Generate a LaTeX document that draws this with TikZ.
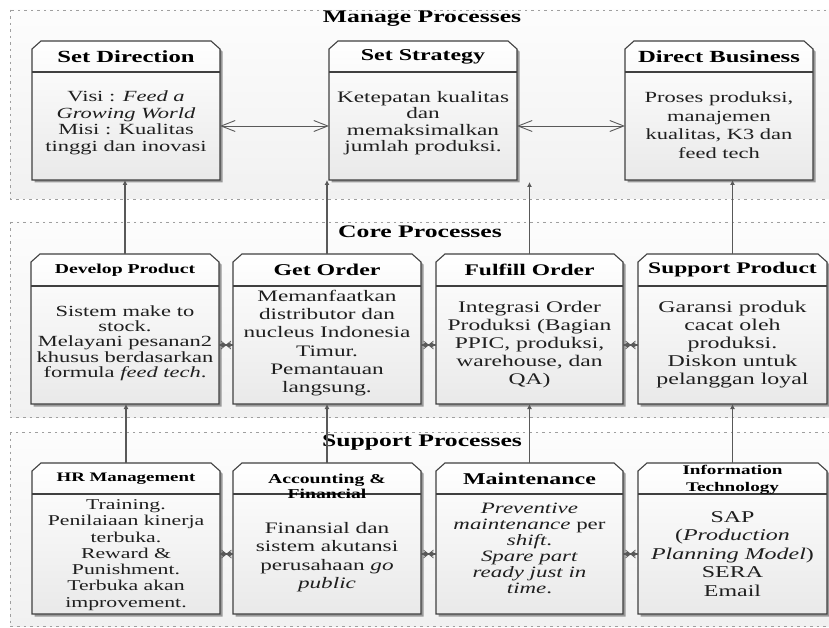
\documentclass[tikz,border=0pt]{standalone}
\usepackage{fontspec}
\setmainfont{Liberation Serif}[FakeStretch=1.45]
\usetikzlibrary{arrows.meta,decorations.markings}

% #1 name, #2 x left, #3 x right, #4 header options, #5 header text, #6 body options, #7 body text
\newcommand\pbox[7]{%
  \fill[boxshadow] ({#2+2.5},{\pya+10.5}) -- ({#2+11.5},{\pya+2.5}) -- ({#3-6.5},{\pya+2.5}) -- ({#3+2.5},{\pya+10.5}) -- ({#3+2.5},{\pyb+2.5}) -- ({#2+2.5},{\pyb+2.5}) -- cycle;
  \path[boxbody] (#2,{\pya+8}) -- ({#2+9},\pya) -- ({#3-9},\pya) -- (#3,{\pya+8}) -- (#3,\pyb) -- (#2,\pyb) -- cycle;
  \draw[boxline] (#2,\pyh) -- (#3,\pyh);
  \node[area, minimum width={#3-#2}, minimum height={\pyh-\pya}] (#1-h) at ({(#2+#3)/2},{(\pya+\pyh)/2}) {};
  \node[area, minimum width={#3-#2}, minimum height={\pyb-\pyh}] (#1) at ({(#2+#3)/2},{(\pyh+\pyb)/2}) {};
  \node[hdr,#4] (#1-ht) at (#1-h.center) {#5};
  \node[bodytxt,#6] (#1-bt) at (#1.center) {#7};
}

\begin{document}
\begin{tikzpicture}[x=1pt,y=-1pt,
  grpfill/.style={top color=gray!2, bottom color=gray!11},
  grpline/.style={draw=gray!75, line width=0.9pt, dash pattern=on 2.5pt off 4pt},
  grptitle/.style={font=\fontsize{17.7}{18}\selectfont\bfseries, text=black, inner sep=0pt},
  boxshadow/.style={fill=black!40},
  boxbody/.style={draw=black!75, line width=1.1pt, top color=white, bottom color=gray!17},
  boxline/.style={draw=black!75, line width=1.1pt},
  area/.style={inner sep=0pt, outer sep=0pt, draw=none},
  hdr/.style={font=\fontsize{16.5}{16}\selectfont\bfseries, align=center, inner sep=0pt, text=black},
  hdrS/.style={font=\fontsize{13.2}{15}\selectfont\bfseries},
  bodytxt/.style={font=\fontsize{15.5}{16}\selectfont, align=center, inner sep=0pt, text=black!88},
  conn/.style={draw=black!65, line width=1.2pt},
  up/.style={conn, -{Latex[length=5pt,width=5pt]}},
  bi/.style={draw=black!65, line width=0.9pt, {Straight Barb[length=14pt,width=11pt]}-{Straight Barb[length=14pt,width=11pt]}},
  xlink/.style={conn, postaction={decorate}, decoration={markings, mark=at position 0.5 with {\draw[black!65, line width=0.7pt] (-5,-4) -- (5,4) (-5,4) -- (5,-4) (-5,-2) -- (5,2) (-5,2) -- (5,-2);}}}
]
\useasboundingbox (0,0) rectangle (829,628);

% groups
\shade[grpfill] (10,10) rectangle (840,199);
\draw[grpline] (10,10) rectangle (840,199);
\shade[grpfill] (10,222) rectangle (840,417);
\draw[grpline] (10,222) rectangle (840,417);
\shade[grpfill] (10,432) rectangle (840,626.5);
\draw[grpline] (10,432) rectangle (840,626.5);

\node[grptitle] (t-manage) at (422,19) {Manage Processes};
\node[grptitle] (t-core) at (420,232) {Core Processes};
\node[grptitle] (t-support) at (422,443) {Support Processes};

% Manage row
\def\pya{41}\def\pyh{72}\def\pyb{180}
\pbox{sd}{32}{220}{font=\fontsize{17}{17}\selectfont\bfseries}{Set Direction}{font=\fontsize{15.5}{16.5}\selectfont, yshift=3pt}{Visi : \textit{Feed a}\\\textit{Growing World}\\Misi : Kualitas\\tinggi dan inovasi}
\pbox{ss}{329}{517}{}{Set Strategy}{font=\fontsize{16}{16.5}\selectfont, yshift=3pt}{Ketepatan kualitas\\dan\\memaksimalkan\\jumlah produksi.}
\pbox{db}{625}{813}{font=\fontsize{17}{17}\selectfont\bfseries}{Direct Business}{font=\fontsize{15.5}{18.5}\selectfont, yshift=1pt}{Proses produksi,\\manajemen\\kualitas, K3 dan\\feed tech}

% Core row
\def\pya{254}\def\pyh{286}\def\pyb{404}
\pbox{dp}{31}{219}{hdrS, font=\fontsize{13.6}{15}\selectfont\bfseries}{Develop Product}{font=\fontsize{15.5}{15.3}\selectfont, yshift=2pt}{Sistem make to\\stock.\\Melayani pesanan2\\khusus berdasarkan\\formula \textit{feed tech}.}
\pbox{go}{233}{421}{}{Get Order}{font=\fontsize{16}{18.3}\selectfont, yshift=2pt}{Memanfaatkan\\distributor dan\\nucleus Indonesia\\Timur.\\Pemantauan\\langsung.}
\pbox{fo}{436}{623}{font=\fontsize{16.2}{16}\selectfont\bfseries}{Fulfill Order}{font=\fontsize{16.2}{18}\selectfont}{Integrasi Order\\Produksi (Bagian\\PPIC, produksi,\\warehouse, dan\\QA)}
\pbox{sp}{638}{827}{font=\fontsize{16.2}{16}\selectfont\bfseries}{Support Product}{font=\fontsize{16.5}{18}\selectfont}{Garansi produk\\cacat oleh\\produksi.\\Diskon untuk\\pelanggan loyal}

% Support row
\def\pya{463}\def\pyh{494}\def\pyb{614}
\pbox{hr}{32}{220}{hdrS, font=\fontsize{13}{15}\selectfont\bfseries}{HR Management}{font=\fontsize{15}{16.3}\selectfont, yshift=-1pt}{Training.\\Penilaiaan kinerja\\terbuka.\\Reward \&\\Punishment.\\Terbuka akan\\improvement.}
\pbox{af}{233}{421}{hdrS, font=\fontsize{13.6}{15.5}\selectfont\bfseries, yshift=-8pt}{Accounting \&\\Financial}{font=\fontsize{16}{18.3}\selectfont, yshift=-3pt}{Finansial dan\\sistem akutansi\\perusahaan \textit{go}\\\textit{public}}
\pbox{mt}{436}{623}{}{Maintenance}{font=\fontsize{15.8}{16}\selectfont, yshift=6pt}{\textit{Preventive}\\\textit{maintenance} per\\\textit{shift}.\\\textit{Spare part}\\\textit{ready just in}\\\textit{time}.}
\pbox{it}{638}{827}{hdrS, font=\fontsize{13.2}{17}\selectfont\bfseries, yshift=-1pt}{Information\\Technology}{font=\fontsize{16.5}{18.5}\selectfont}{SAP\\(\textit{Production}\\\textit{Planning Model})\\SERA\\Email}

% manage connectors
\draw[bi] (sd) -- (ss);
\draw[bi] (ss) -- (db);

% core -> manage
\draw[up] (dp-h.north) -- (dp-h.north |- sd.south);
\draw[up] (go-h.north) -- (go-h.north |- ss.south);
\draw[up] (fo-h.north) -- ([yshift=-2pt]fo-h.north |- ss.south);
\draw[up] (sp-h.north) -- (sp-h.north |- db.south);

% core horizontal
\draw[xlink] (dp) -- (go);
\draw[xlink] (go) -- (fo);
\draw[xlink] (fo) -- (sp);

% support -> core
\draw[up] (hr-h.north) -- (hr-h.north |- dp.south);
\draw[up] (af-h.north) -- (af-h.north |- go.south);
\draw[up] (mt-h.north) -- (mt-h.north |- fo.south);
\draw[up] (it-h.north) -- (it-h.north |- sp.south);

% support horizontal
\draw[xlink] (hr) -- (af);
\draw[xlink] (af) -- (mt);
\draw[xlink] (mt) -- (it);
\end{tikzpicture}
\end{document}
